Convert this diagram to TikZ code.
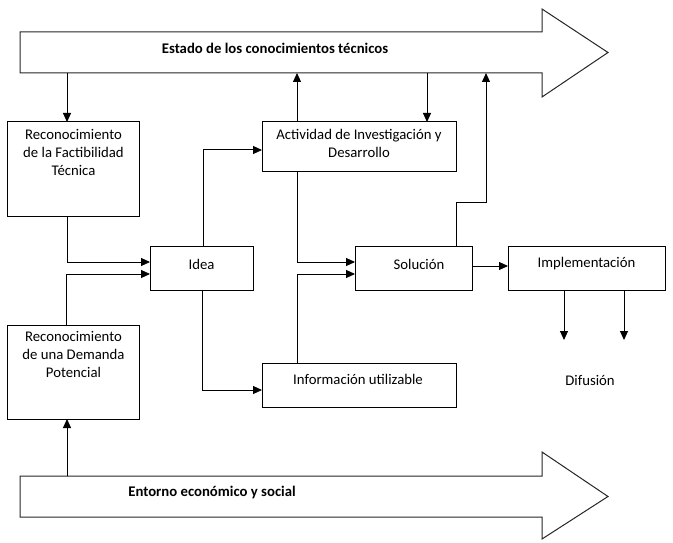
\documentclass[tikz,border=0pt]{standalone}
\usepackage{fontspec}
\setmainfont{Carlito}
\usetikzlibrary{arrows.meta,calc}
\begin{document}
\begin{tikzpicture}[x=1bp,y=-1bp,
 box/.style={draw=black,line width=1bp,inner sep=0pt,outer sep=0pt},
 txt/.style={font=\fontsize{14.8}{18.3}\selectfont,align=center,inner sep=0pt},
 btxt/.style={font=\fontsize{14.8}{18.3}\selectfont\bfseries,inner sep=0pt},
 arr/.style={draw=black,line width=1bp,-{Triangle[length=9bp,width=8bp]}},
 big/.style={draw=black!85,line width=1bp,fill=white,line join=miter}]
\useasboundingbox[fill=white] (0,0) rectangle (673,543);
% big arrows
\draw[big] (20,32) -- (542,32) -- (542,9) -- (608,52.5) -- (542,97) -- (542,73) -- (20,73) -- cycle;
\node[btxt] (estado) at (275,48) {Estado de los conocimientos técnicos};
\draw[big] (20,476) -- (542,476) -- (542,452) -- (608,496.5) -- (542,539) -- (542,517) -- (20,517) -- cycle;
\node[btxt] (entorno) at (212,492) {Entorno económico y social};
\coordinate (t1) at (67,73);
\coordinate (t2) at (297,73);
\coordinate (t3) at (427,73);
\coordinate (t4) at (486,73);
\coordinate (b1) at (67,476);
% boxes
\node[box,minimum width=131bp,minimum height=94bp] (f) at (73.5,169) {};
\node[txt,anchor=north] (ft) at (73.5,129) {Reconocimiento\\de la Factibilidad\\Técnica};
\node[box,minimum width=131bp,minimum height=94bp] (dem) at (73.5,372) {};
\node[txt,anchor=north] (demt) at (73.5,331) {Reconocimiento\\de una Demanda\\Potencial};
\node[box,minimum width=103bp,minimum height=43bp] (idea) at (201.5,268.5) {};
\node[txt] (ideat) at (201.5,264) {Idea};
\node[box,minimum width=194bp,minimum height=50bp] (act) at (359,147) {};
\node[txt,anchor=north] (actt) at (359,129) {Actividad de Investigación y\\Desarrollo};
\node[box,minimum width=194bp,minimum height=44bp] (info) at (359,385) {};
\node[txt] (infot) at (358,379) {Información utilizable};
\node[box,minimum width=117bp,minimum height=43bp] (sol) at (413.5,268.5) {};
\node[txt] (solt) at (419,264) {Solución};
\node[box,minimum width=157bp,minimum height=43bp] (impl) at (586.5,268.5) {};
\node[txt] (implt) at (586.5,264) {Implementación};
\node[txt] (dif) at (590,380) {Difusión};
% connectors
\draw[arr] (t1) -- (t1 |- f.north);
\draw[arr] (t2 |- act.north) -- (t2);
\draw[arr] (t3) -- (t3 |- act.north);
\draw[arr] ($(sol.north)+(42.5,0)$) -- ++(0,-44) -| (t4);
\draw[arr] ($(f.south)+(-6.5,0)$) |- ($(idea.west)+(0,-6.5)$);
\draw[arr] ($(dem.north)+(-7.5,0)$) |- ($(idea.west)+(0,5.5)$);
\draw[arr] ($(idea.north)+(1.5,0)$) |- ($(act.west)+(0,3)$);
\draw[arr] ($(idea.south)+(0.5,0)$) |- ($(info.west)+(0,5)$);
\draw[arr] ($(act.south)+(-62,0)$) |- ($(sol.west)+(0,-6.5)$);
\draw[arr] ($(info.north)+(-62,0)$) |- ($(sol.west)+(0,5.5)$);
\draw[arr] ($(sol.east)+(0,-2.5)$) -- ($(impl.west)+(0,-2.5)$);
\draw[arr] ($(impl.south)+(-22.5,0)$) -- ++(0,50);
\draw[arr] ($(impl.south)+(37.5,0)$) -- ++(0,50);
\draw[arr] (b1) -- (b1 |- dem.south);
\end{tikzpicture}
\end{document}
